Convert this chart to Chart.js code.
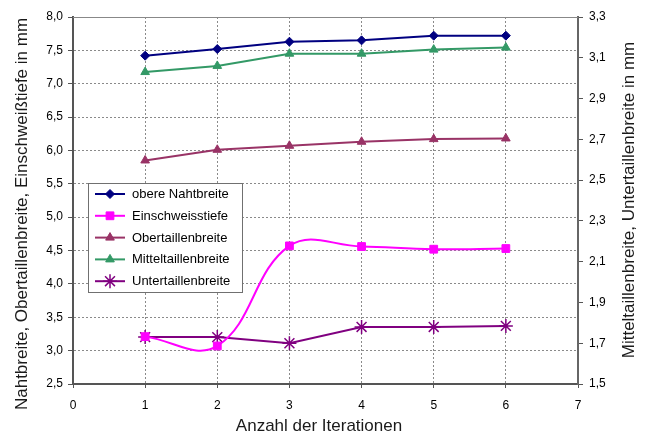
<!DOCTYPE html>
<html>
<head>
<meta charset="utf-8">
<script src="https://cdn.jsdelivr.net/npm/chart.js@4.4.1/dist/chart.umd.min.js"></script>
<style>
  html, body { margin: 0; padding: 0; background: #fff; }
  #wrap { width: 645px; height: 434px; }
</style>
</head>
<body>
<div id="wrap"><canvas id="chart" width="645" height="434"></canvas></div>
<script>
// values
const iterations = [1, 2, 3, 4, 5, 6];
const obereNahtbreite = [7.42, 7.52, 7.63, 7.65, 7.72, 7.72];
const einschweisstiefe = [3.21, 3.07, 4.57, 4.56, 4.52, 4.53];
const obertaillenbreite = [5.85, 6.01, 6.07, 6.13, 6.17, 6.18];
const mitteltaillenbreite = [3.03, 3.06, 3.12, 3.12, 3.14, 3.15];
const untertaillenbreite = [1.73, 1.73, 1.70, 1.78, 1.78, 1.785];

const xTicks = [0, 1, 2, 3, 4, 5, 6, 7];
const leftTicks = [2.5, 3.0, 3.5, 4.0, 4.5, 5.0, 5.5, 6.0, 6.5, 7.0, 7.5, 8.0];
const rightTicks = [1.5, 1.7, 1.9, 2.1, 2.3, 2.5, 2.7, 2.9, 3.1, 3.3];

const xTitle = 'Anzahl der Iterationen';
const leftTitle = 'Nahtbreite, Obertaillenbreite, Einschweißtiefe in mm';
const rightTitle = 'Mitteltaillenbreite, Untertaillenbreite in mm';

const FONT = "'Liberation Sans', Arial, sans-serif";

const toPoints = (ys) => ys.map((y, i) => ({ x: iterations[i], y }));
const comma = (v) => Number(v).toFixed(1).replace('.', ',');
const setTicks = (arr) => (scale) => { scale.ticks = arr.map(v => ({ value: v })); };

function series(label, ys, color, axis, style, radius, extra){
  return Object.assign({
    label,
    data: toPoints(ys),
    yAxisID: axis,
    borderColor: color,
    backgroundColor: color,
    pointBackgroundColor: color,
    pointBorderColor: color,
    pointStyle: style,
    pointRadius: radius,
    pointBorderWidth: 1,
    borderWidth: 2,
    tension: 0
  }, extra || {});
}

const datasets = [
  series('obere Nahtbreite', obereNahtbreite, '#000080', 'yL', 'rectRot', 4.5),
  series('Einschweisstiefe', einschweisstiefe, '#FF00FF', 'yL', 'rect', 5.5, { tension: 0.4 }),
  series('Obertaillenbreite', obertaillenbreite, '#993366', 'yL', 'triangle', 5),
  series('Mitteltaillenbreite', mitteltaillenbreite, '#339966', 'yR', 'triangle', 5),
  series('Untertaillenbreite', untertaillenbreite, '#800080', 'yR', 'star', 7, { pointBorderWidth: 1.5 })
];

// legend box drawn inside the plot area, like the original
const innerLegend = {
  id: 'innerLegend',
  afterDatasetsDraw(chart){
    const ctx = chart.ctx;
    const box = { x: 88.5, y: 183.5, w: 154, h: 109 };
    ctx.save();
    ctx.fillStyle = '#fff';
    ctx.strokeStyle = '#707070';
    ctx.lineWidth = 1;
    ctx.fillRect(box.x, box.y, box.w, box.h);
    ctx.strokeRect(box.x, box.y, box.w, box.h);
    ctx.font = '13px ' + FONT;
    ctx.textBaseline = 'middle';
    ctx.textAlign = 'left';
    chart.data.datasets.forEach((ds, i) => {
      const y = 194 + i * 21.8;
      ctx.strokeStyle = ds.borderColor;
      ctx.lineWidth = 2;
      ctx.beginPath();
      ctx.moveTo(95, y);
      ctx.lineTo(125, y);
      ctx.stroke();
      ctx.fillStyle = ds.pointBackgroundColor;
      ctx.strokeStyle = ds.pointBorderColor;
      ctx.lineWidth = ds.pointBorderWidth;
      Chart.helpers.drawPoint(ctx, { pointStyle: ds.pointStyle, radius: ds.pointRadius, rotation: 0, borderWidth: ds.pointBorderWidth }, 110, y);
      ctx.fillStyle = '#000';
      ctx.fillText(ds.label, 132, y + 0.5);
    });
    ctx.restore();
  }
};

// top edge of the plot frame and the axis titles
const frameAndTitles = {
  id: 'frameAndTitles',
  afterDraw(chart){
    const { ctx, chartArea: a } = chart;
    ctx.save();
    ctx.strokeStyle = '#888';
    ctx.lineWidth = 1;
    ctx.beginPath();
    ctx.moveTo(a.left, a.top + 0.5);
    ctx.lineTo(a.right, a.top + 0.5);
    ctx.stroke();

    ctx.fillStyle = '#1a1a1a';
    ctx.font = '17px ' + FONT;
    ctx.textAlign = 'center';
    ctx.textBaseline = 'alphabetic';
    ctx.fillText(xTitle, 319, 431);

    ctx.translate(27, 214);
    ctx.rotate(-Math.PI / 2);
    ctx.fillText(leftTitle, 0, 0);
    ctx.restore();

    ctx.save();
    ctx.fillStyle = '#1a1a1a';
    ctx.font = '17px ' + FONT;
    ctx.textAlign = 'center';
    ctx.textBaseline = 'alphabetic';
    ctx.translate(634, 200);
    ctx.rotate(-Math.PI / 2);
    ctx.fillText(rightTitle, 0, 0);
    ctx.restore();
  }
};

const tickFont = { family: FONT, size: 12 };

new Chart(document.getElementById('chart'), {
  type: 'line',
  data: { datasets },
  plugins: [innerLegend, frameAndTitles],
  options: {
    responsive: false,
    animation: false,
    layout: { padding: { top: 17, left: 0, right: 0, bottom: 0 } },
    plugins: { legend: { display: false }, tooltip: { enabled: false } },
    scales: {
      x: {
        type: 'linear',
        position: 'bottom',
        min: 0, max: 7,
        afterBuildTicks: setTicks(xTicks),
        afterFit: (s) => { s.height = 50; },
        ticks: { font: tickFont, color: '#000', padding: 10, maxRotation: 0, callback: (v) => String(v) },
        grid: { color: '#8a8a8a', lineWidth: 1, tickLength: 4, tickColor: '#555' },
        border: { display: true, color: '#555', width: 2, dash: [2, 2] }
      },
      yL: {
        type: 'linear',
        position: 'left',
        min: 2.5, max: 8.0,
        afterBuildTicks: setTicks(leftTicks),
        afterFit: (s) => { s.width = 73; },
        ticks: { font: tickFont, color: '#000', padding: 5, callback: comma },
        grid: { color: '#8a8a8a', lineWidth: 1, tickLength: 5, tickColor: '#555' },
        border: { display: true, color: '#555', width: 2, dash: [2, 2] }
      },
      yR: {
        type: 'linear',
        position: 'right',
        min: 1.5, max: 3.3,
        afterBuildTicks: setTicks(rightTicks),
        afterFit: (s) => { s.width = 67; },
        ticks: { font: tickFont, color: '#000', padding: 6, callback: comma },
        grid: { drawOnChartArea: false, tickLength: 5, tickColor: '#555' },
        border: { display: true, color: '#666', width: 2 }
      }
    }
  }
});
</script>
</body>
</html>
